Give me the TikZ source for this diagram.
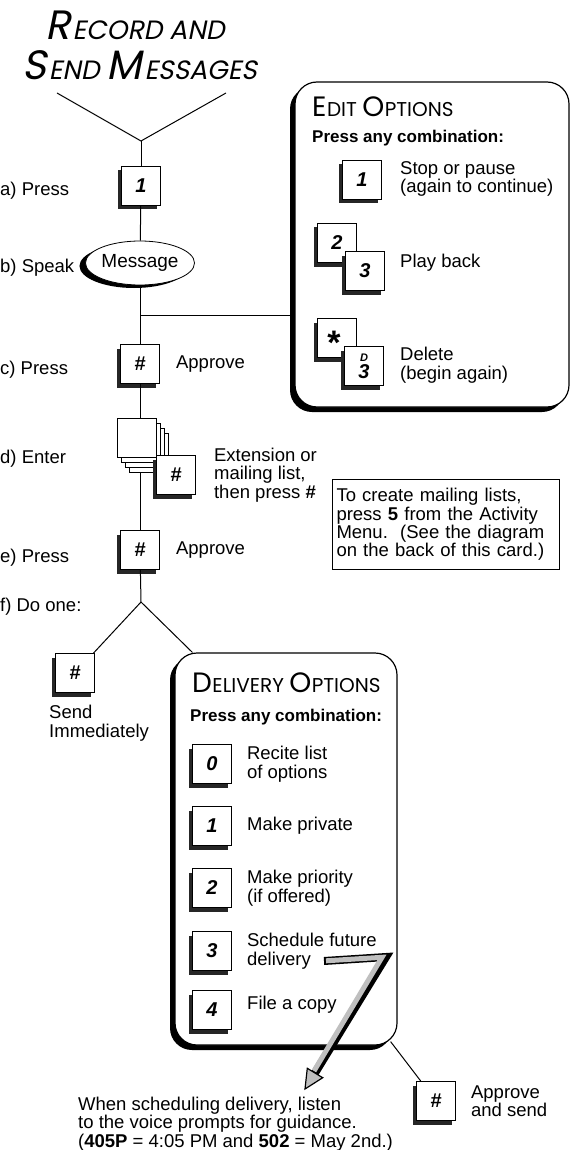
\documentclass[tikz,border=0pt]{standalone}
\usepackage{fontspec}
\setmainfont{Liberation Sans}
\newfontfamily\capsfont{Poppins}
\newfontfamily\slantfont[FakeSlant=0.2]{Poppins}
\usetikzlibrary{positioning,shapes.geometric,shadows}

\newcommand{\capletter}[2]{{\fontsize{#1}{#1}\selectfont #2}\kern0.5pt}
\newcommand{\slantletter}[2]{{\fontsize{#1}{#1}\selectfont #2}\kern2.5pt}

\tikzset{
	key/.style={draw, fill=white, line width=0.8pt, minimum size=39pt, inner sep=0pt,
		font=\fontsize{20}{20}\selectfont\bfseries\itshape,
		general shadow={fill=black!85, shadow xshift=-4pt, shadow yshift=-4pt}},
	page/.style={draw, fill=white, line width=0.8pt, minimum size=39pt, inner sep=0pt},
	txt/.style={anchor=west, align=left, inner sep=0pt, font=\fontsize{18.5}{18.5}\selectfont},
	hint/.style={anchor=west, inner sep=0pt, font=\fontsize{17}{17}\selectfont\bfseries},
	optbox/.style={draw, fill=white, line width=1.2pt, rounded corners=22pt, inner sep=0pt,
		general shadow={fill=black, shadow xshift=-5pt, shadow yshift=-5pt}},
	link/.style={line width=1pt},
}

\begin{document}
\begin{tikzpicture}[x=1pt, y=-1pt]
	\useasboundingbox (0,0) rectangle (571,1150);

	% title
	\node[anchor=base west, inner sep=0pt, font=\slantfont\fontsize{26.5}{26.5}\selectfont] (ttl1) at (45,40) {\slantletter{41}{R}ECORD AND};
	\node[anchor=base west, inner sep=0pt, font=\slantfont\fontsize{26.5}{26.5}\selectfont] (ttl2) at (22,80) {\slantletter{41}{S}END \slantletter{41}{M}ESSAGES};
	\coordinate (vl) at (57,93);
	\coordinate (vr) at (226,93);
	\coordinate (top) at (141,141);

	% main column
	\node[key] (k1) at (141,186) {1};
	\node[draw, ellipse, fill=white, line width=0.8pt, minimum width=104pt, minimum height=44pt, inner sep=0pt,
		font=\fontsize{19}{19}\selectfont,
		general shadow={fill=black, shadow xshift=-6pt, shadow yshift=-3pt}] (msg) at (140,263) {Message};
	\node[key] (kc) at (140,364) {\#};
	\foreach \i in {3,2,1,0}
		\node[page] (p\i) at (137+4*\i, 438+5*\i) {};
	\node[key] (kd) at (176,475) {\#};
	\node[key] (ke) at (140,550) {\#};
	\coordinate (fork) at (141,602);
	\node[key] (ks) at (75,673) {\#};

	\node[txt] (la) at (0,191) {a) Press};
	\node[txt] (lb) at (0,268) {b) Speak};
	\node[txt] (lc) at (0,370) {c) Press};
	\node[txt] (ld) at (0,459) {d) Enter};
	\node[txt] (le) at (0,558) {e) Press};
	\node[txt] (lf) at (0,607) {f) Do one:};
	\node[txt, right=16pt of kc] (apc) {Approve};
	\node[txt, right=18pt of kd] (ext) {Extension or\\mailing list,\\then press \textbf{\#}};
	\node[txt, right=16pt of ke] (ape) {Approve};
	\node[txt, anchor=north west] (send) at (49,705) {Send\\Immediately};

	% edit options
	\node[optbox, minimum width=274pt, minimum height=325pt] (edit) at (432,244.5) {};
	\node[anchor=base west, inner sep=0pt, font=\capsfont\fontsize{20}{20}\selectfont] (edt) at (312,117) {\capletter{28}{E}DIT \capletter{28}{O}PTIONS};
	\node[hint] (edh) at (312,138) {Press any combination:};
	\node[key] (e1) at (362,180) {1};
	\node[txt] (e1t) at (400,179) {Stop or pause\\(again to continue)};
	\node[key] (e2) at (337,243) {2};
	\node[key] (e3) at (365,271) {3};
	\node[txt] (e3t) at (400,263) {Play back};
	\node[key] (es) at (337,338) {};
	\node[anchor=base, inner sep=0pt, font=\fontsize{34}{34}\selectfont\bfseries] (star) at (334,354) {*};
	\node[key, align=center] (ed) at (364,366) {{\fontsize{11}{11}\selectfont D}\\[-3pt]3};
	\node[txt] (edtx) at (400,365) {Delete\\(begin again)};

	% mailing lists
	\node[draw, line width=1pt, anchor=north west, align=left, inner sep=4pt, text width=219pt, minimum height=90pt,
		font=\fontsize{18.5}{17}\selectfont] (note) at (332,479) {To create mailing lists,\\press \textbf{5} from the Activity\\Menu.\ \ (See the diagram\\on the back of this card.)};

	% delivery options
	\node[optbox, minimum width=222pt, minimum height=392pt] (deliv) at (286,849) {};
	\node[anchor=base west, inner sep=0pt, font=\capsfont\fontsize{20}{20}\selectfont] (dlt) at (192,692) {\capletter{28}{D}ELIVERY \capletter{28}{O}PTIONS};
	\node[hint] (dlh) at (190,717) {Press any combination:};
	\node[key] (d0) at (212,764) {0};
	\node[txt, right=15pt of d0] (d0t) {Recite list\\of options};
	\node[key] (d1) at (212,826) {1};
	\node[txt, right=15pt of d1] (d1t) {Make private};
	\node[key] (d2) at (212,888) {2};
	\node[txt, right=15pt of d2] (d2t) {Make priority\\(if offered)};
	\node[key] (d3) at (212,951) {3};
	\node[txt, right=15pt of d3] (d3t) {Schedule future\\delivery};
	\node[key] (d4) at (212,1010) {4};
	\node[txt, anchor=west] (d4t) at (247,1005) {File a copy};

	\node[key] (kapp) at (436,1101) {\#};
	\node[txt, right=15pt of kapp] (appt) {Approve\\and send};
	\node[txt, font=\fontsize{18.5}{16.5}\selectfont] (tip) at (78,1124) {When scheduling delivery, listen\\to the voice prompts for guidance.\\(\textbf{405P} = 4:05 PM and \textbf{502} = May 2nd.)};

	% the bent pointer
	\draw[line width=8pt, line join=miter, miter limit=10] (324,961) -- (386,957) -- (315,1073);
	\draw[line width=5pt, black!25, line join=miter, miter limit=10] (326,960.8) -- (382,957.3) -- (314,1071);
	\filldraw[fill=black!25, line width=1.2pt, line join=miter] (322.7,1077.7) -- (305,1089) -- (307.3,1068.3) -- cycle;

	% connectors
	\draw[link] (vl) -- (top) -- (vr);
	\draw[link] (top) -- (k1);
	\draw[link] (k1) -- (msg);
	\draw[link] (msg) -- (kc);
	\coordinate (tee) at (140,315);
	\draw[link] (tee) -- (tee -| edit.west);
	\draw[link] (kc) -- (kc |- p0.north);
	\draw[link] (ke) -- (ke |- p3.south);
	\draw[link] (ke) -- (fork);
	\draw[link] (fork) -- (ks);
	\draw[link] (fork) -- ([xshift=18pt]deliv.north west);
	\draw[link] ([xshift=-7pt,yshift=4pt]deliv.south east) -- (kapp);
\end{tikzpicture}
\end{document}
